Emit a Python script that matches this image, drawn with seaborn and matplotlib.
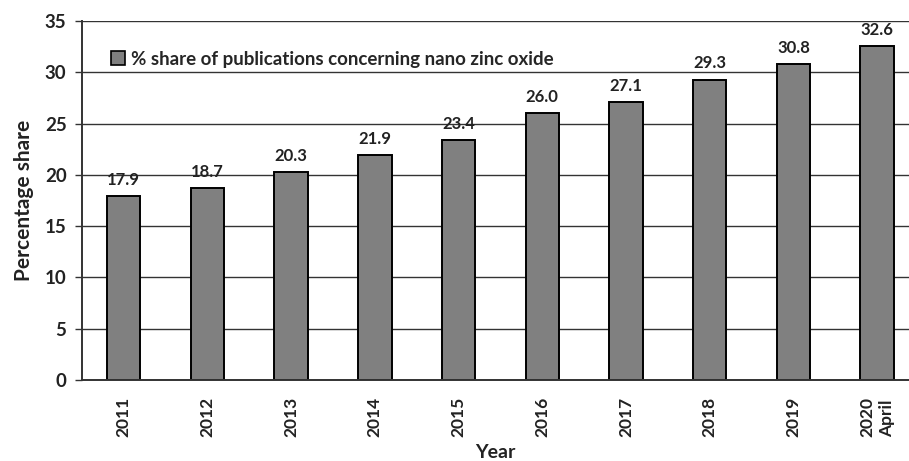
import matplotlib
matplotlib.use("Agg")
import matplotlib.pyplot as plt
import seaborn as sns
import pandas as pd
from matplotlib.patches import Patch

years = ["2011", "2012", "2013", "2014", "2015", "2016", "2017", "2018", "2019", "2020\nApril"]
share = [17.9, 18.7, 20.3, 21.9, 23.4, 26.0, 27.1, 29.3, 30.8, 32.6]
y_ticks = [0, 5, 10, 15, 20, 25, 30, 35]
legend_label = "% share of publications concerning nano zinc oxide"

sns.set_theme(style="white")
plt.rcParams["font.family"] = ["Lato", "DejaVu Sans"]
plt.rcParams["font.weight"] = "bold"

df = pd.DataFrame({"Year": years, "Share": share})

fig = plt.figure(figsize=(9.09, 4.61), dpi=100)
ax = fig.add_axes([0.090, 0.176, 0.91, 0.778])

ax.set_axisbelow(True)
ax.yaxis.grid(True, color="#333333", linewidth=1.0)

sns.barplot(data=df, x="Year", y="Share", color="#808080", width=0.4,
            edgecolor="black", linewidth=1.4, saturation=1, ax=ax)

for i, v in enumerate(share):
    ax.text(i, v + 0.8, f"{v:.1f}", ha="center", va="bottom",
            fontsize=12, fontweight="bold", color="#222222")

ax.set_ylim(0, 35)
ax.set_yticks(y_ticks)
ax.set_xlim(-0.5, 9.38)
ax.tick_params(axis="y", left=True, length=5, width=1, labelsize=13.5, pad=6, color="#333333")
ax.tick_params(axis="x", bottom=False, labelsize=12.5, rotation=90, pad=6)
for lbl in ax.get_xticklabels() + ax.get_yticklabels():
    lbl.set_fontweight("bold")
    lbl.set_color("#222222")
for lbl in ax.get_xticklabels():
    lbl.set_multialignment("left")
    lbl.set_linespacing(1.3)

for side in ["top", "right"]:
    ax.spines[side].set_visible(False)
for side in ["left", "bottom"]:
    ax.spines[side].set_color("#333333")
    ax.spines[side].set_linewidth(1.4)

ax.set_ylabel("Percentage share", fontsize=15, fontweight="bold", color="#222222", labelpad=8)
ax.set_xlabel("Year", fontsize=14, fontweight="bold", color="#222222", labelpad=5)

handle = Patch(facecolor="#808080", edgecolor="black", linewidth=1.2)
ax.legend([handle], [legend_label], loc="upper left", bbox_to_anchor=(0.015, 0.965),
          frameon=False, handlelength=0.75, handleheight=0.75,
          handletextpad=0.3, prop={"weight": "bold", "size": 13.5})

fig.savefig("out.png", dpi=100)
